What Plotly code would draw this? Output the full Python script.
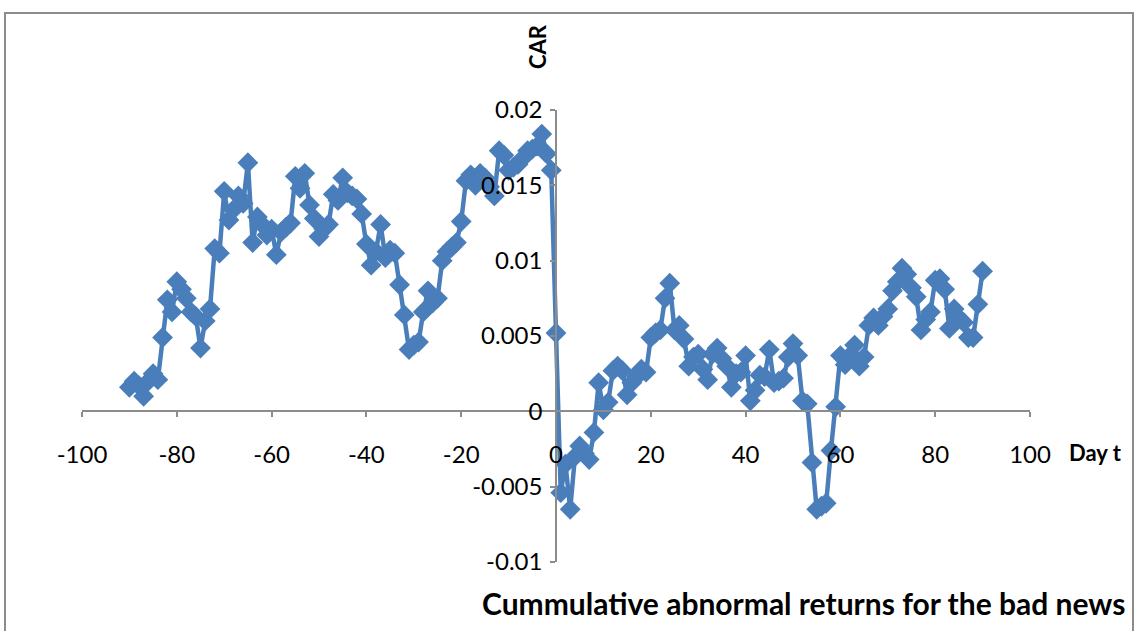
import plotly.graph_objects as go

# ---- data ----
days = list(range(-90, 91))
car = [
    # -90 .. -81
    0.0016, 0.0020, 0.0017, 0.0010, 0.0020, 0.0025, 0.0021, 0.0049, 0.0074, 0.0066,
    # -80 .. -71
    0.0086, 0.0081, 0.0075, 0.0066, 0.0063, 0.0042, 0.0060, 0.0068, 0.0108, 0.0105,
    # -70 .. -61
    0.0146, 0.0127, 0.0134, 0.0143, 0.0138, 0.0165, 0.0112, 0.0129, 0.0124, 0.0117,
    # -60 .. -51
    0.0121, 0.0104, 0.0119, 0.0122, 0.0125, 0.0156, 0.0148, 0.0158, 0.0137, 0.0128,
    # -50 .. -41
    0.0116, 0.0121, 0.0124, 0.0144, 0.0140, 0.0155, 0.0145, 0.0143, 0.0141, 0.0131,
    # -40 .. -31
    0.0111, 0.0097, 0.0106, 0.0124, 0.0102, 0.0107, 0.0105, 0.0084, 0.0064, 0.0041,
    # -30 .. -21
    0.0044, 0.0046, 0.0066, 0.0080, 0.0072, 0.0075, 0.0100, 0.0106, 0.0109, 0.0112,
    # -20 .. -11
    0.0126, 0.0153, 0.0157, 0.0150, 0.0158, 0.0155, 0.0149, 0.0143, 0.0173, 0.0170,
    # -10 .. -1
    0.0160, 0.0162, 0.0164, 0.0168, 0.0173, 0.0174, 0.0176, 0.0184, 0.0171, 0.0160,
    # 0
    0.0052,
    # 1 .. 10
    -0.0054, -0.0035, -0.0065, -0.0030, -0.0023, -0.0028, -0.0032, -0.0014, 0.0019, 0.0001,
    # 11 .. 20
    0.0006, 0.0027, 0.0030, 0.0027, 0.0011, 0.0019, 0.0023, 0.0028, 0.0026, 0.0049,
    # 21 .. 30
    0.0052, 0.0054, 0.0075, 0.0085, 0.0054, 0.0057, 0.0048, 0.0030, 0.0036, 0.0038,
    # 31 .. 40
    0.0028, 0.0021, 0.0038, 0.0042, 0.0035, 0.0030, 0.0016, 0.0025, 0.0026, 0.0037,
    # 41 .. 50
    0.0007, 0.0014, 0.0024, 0.0023, 0.0041, 0.0019, 0.0020, 0.0022, 0.0036, 0.0045,
    # 51 .. 60
    0.0037, 0.0007, 0.0005, -0.0034, -0.0065, -0.0063, -0.0061, -0.0026, 0.0003, 0.0037,
    # 61 .. 70
    0.0031, 0.0037, 0.0044, 0.0030, 0.0036, 0.0057, 0.0062, 0.0057, 0.0063, 0.0068,
    # 71 .. 80
    0.0080, 0.0086, 0.0095, 0.0091, 0.0082, 0.0076, 0.0054, 0.0061, 0.0066, 0.0087,
    # 81 .. 90
    0.0088, 0.0081, 0.0055, 0.0068, 0.0062, 0.0059, 0.0049, 0.0049, 0.0071, 0.0093,
]
assert len(days) == len(car)

x_tick_vals = [-100, -80, -60, -40, -20, 0, 20, 40, 60, 80, 100]
x_tick_text = ["-100", "-80", "-60", "-40", "-20", "0", "20", "40", "60", "80", "100"]
y_tick_vals = [-0.01, -0.005, 0, 0.005, 0.01, 0.015, 0.02]
y_tick_text = ["-0.01", "-0.005", "0", "0.005", "0.01", "0.015", "0.02"]

title_text = "Cummulative abnormal returns for the bad news"
x_title = "Day t"
y_title = "CAR"

# ---- style ----
BLUE = "#4A7EBB"
AXIS = "#8c8c8c"
FONT = "Lato, 'Open Sans', sans-serif"

W, H = 1136, 631
L, R, T, B = 82, 106, 110, 69
pw, ph = W - L - R, H - T - B

def px_to_paper_x(px):
    return (px - L) / pw

def px_to_paper_y(py):
    return (H - B - py) / ph

fig = go.Figure()
fig.add_trace(go.Scatter(
    x=days, y=car, mode="lines+markers",
    line=dict(color=BLUE, width=4.5),
    marker=dict(symbol="diamond", size=16, color=BLUE),
    showlegend=False, hoverinfo="x+y",
))

fig.update_layout(
    width=W, height=H,
    margin=dict(l=L, r=R, t=T, b=B, pad=0),
    paper_bgcolor="white", plot_bgcolor="white",
    font=dict(family=FONT, size=24, color="black"),
    xaxis=dict(
        range=[-100, 100], anchor="free", position=1/3,
        tickvals=x_tick_vals, ticktext=x_tick_text,
        showgrid=False, zeroline=False,
        showline=True, linecolor=AXIS, linewidth=1.5,
        ticks="outside", ticklen=5, tickwidth=1.5, tickcolor=AXIS,
        ticklabelstandoff=17,
        tickfont=dict(family=FONT, size=24, color="black"),
    ),
    yaxis=dict(
        range=[-0.01, 0.02], anchor="free", position=0.5,
        tickvals=y_tick_vals, ticktext=y_tick_text,
        showgrid=False, zeroline=False,
        showline=True, linecolor=AXIS, linewidth=1.5,
        ticks="outside", ticklen=5, tickwidth=1.5, tickcolor=AXIS,
        ticklabelstandoff=3,
        tickfont=dict(family=FONT, size=24, color="black"),
    ),
)

# chart-area frame
fig.add_shape(type="rect", xref="paper", yref="paper",
              x0=px_to_paper_x(5), x1=px_to_paper_x(1133),
              y0=px_to_paper_y(660), y1=px_to_paper_y(13),
              line=dict(color="#8c8c8c", width=2), fillcolor="rgba(0,0,0,0)",
              layer="below")

# axis titles and chart title
fig.add_annotation(text=f"<b>{y_title}</b>", xref="paper", yref="paper",
                   x=px_to_paper_x(537), y=px_to_paper_y(47),
                   xanchor="center", yanchor="middle",
                   textangle=-90, showarrow=False,
                   font=dict(family=FONT, size=22, color="black"))
fig.add_annotation(text=f"<b>{x_title}</b>", xref="paper", yref="paper",
                   x=px_to_paper_x(1095), y=px_to_paper_y(452),
                   xanchor="center", yanchor="middle", showarrow=False,
                   font=dict(family=FONT, size=22, color="black"))
fig.add_annotation(text=f"<b>{title_text}</b>", xref="paper", yref="paper",
                   x=px_to_paper_x(1127), y=px_to_paper_y(603),
                   xanchor="right", yanchor="middle", showarrow=False,
                   font=dict(family=FONT, size=30, color="black"))

fig.write_html("out.html")
